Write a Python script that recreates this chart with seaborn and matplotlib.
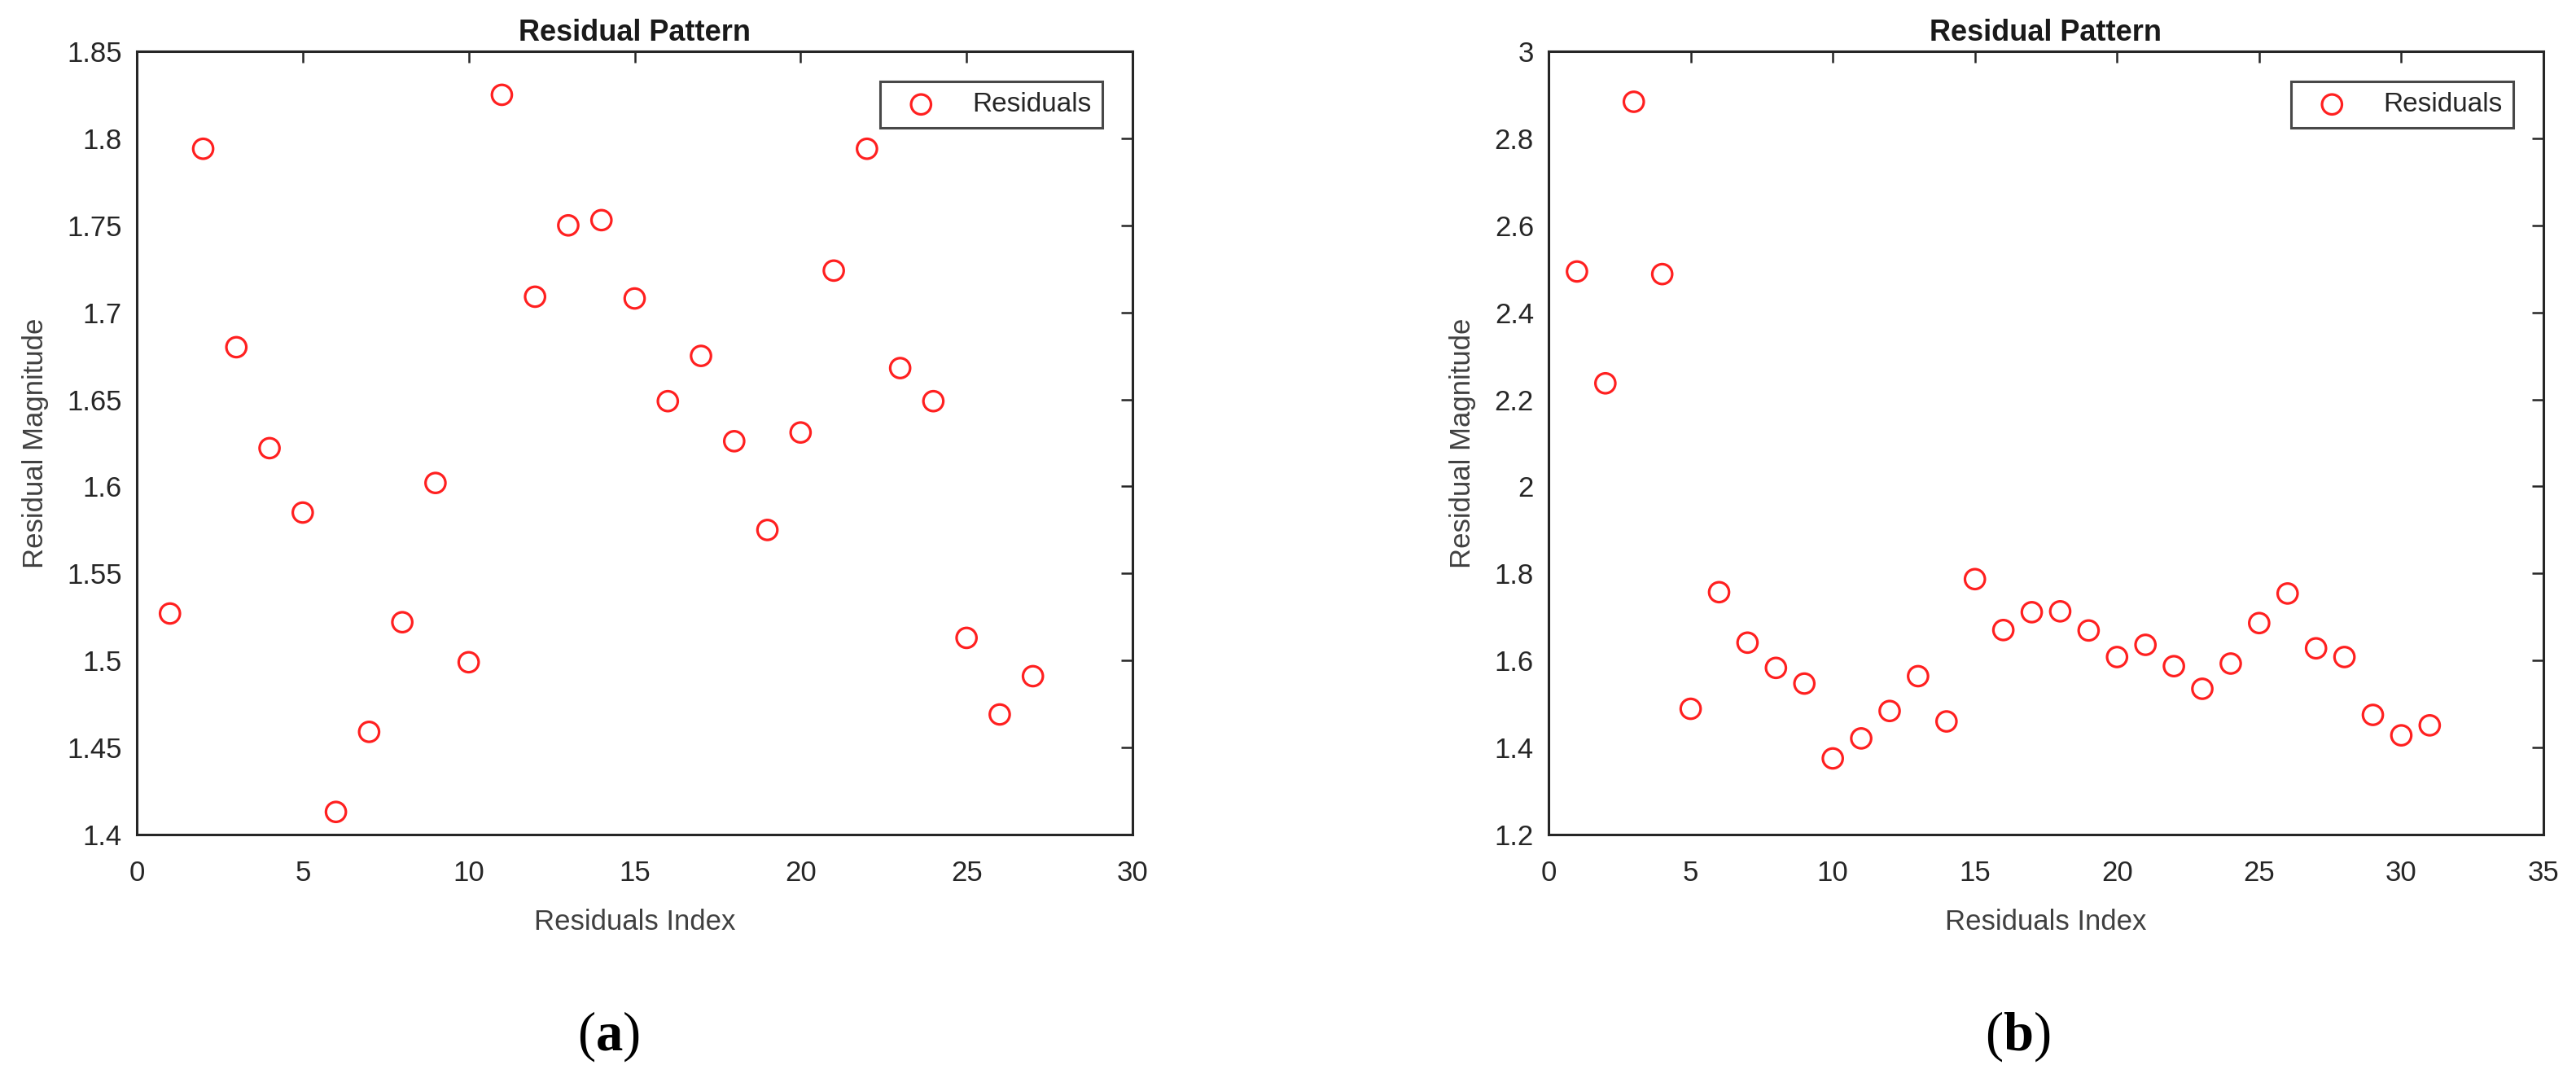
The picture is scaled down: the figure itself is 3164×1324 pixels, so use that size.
import numpy as np
import pandas as pd
import matplotlib
matplotlib.use("Agg")
import matplotlib.pyplot as plt
import seaborn as sns

# residuals: index 1..27
idx_a = list(range(1, 28))
res_a = [1.527, 1.794, 1.680, 1.622, 1.585, 1.413, 1.459, 1.522, 1.602, 1.499,
         1.825, 1.709, 1.750, 1.753, 1.708, 1.649, 1.675, 1.626, 1.575, 1.631,
         1.724, 1.794, 1.668, 1.649, 1.513, 1.469, 1.491]

# residuals: index 1..31
idx_b = list(range(1, 32))
res_b = [2.494, 2.237, 2.884, 2.488, 1.489, 1.757, 1.641, 1.583, 1.547, 1.375,
         1.421, 1.484, 1.564, 1.460, 1.787, 1.670, 1.711, 1.713, 1.669, 1.608,
         1.636, 1.587, 1.535, 1.593, 1.686, 1.754, 1.628, 1.608, 1.475, 1.428,
         1.451]

yticks_a = [1.4, 1.45, 1.5, 1.55, 1.6, 1.65, 1.7, 1.75, 1.8, 1.85]
ytick_labels_a = ['1.4', '1.45', '1.5', '1.55', '1.6', '1.65', '1.7', '1.75', '1.8', '1.85']
xticks_a = [0, 5, 10, 15, 20, 25, 30]
yticks_b = [1.2, 1.4, 1.6, 1.8, 2.0, 2.2, 2.4, 2.6, 2.8, 3.0]
ytick_labels_b = ['1.2', '1.4', '1.6', '1.8', '2', '2.2', '2.4', '2.6', '2.8', '3']
xticks_b = [0, 5, 10, 15, 20, 25, 30, 35]

sns.set_theme(style="white")
plt.rcParams['font.family'] = ['Liberation Sans Narrow', 'Liberation Sans', 'DejaVu Sans']
plt.rcParams['mathtext.fontset'] = 'custom'
plt.rcParams['mathtext.rm'] = 'Liberation Serif'
plt.rcParams['mathtext.bf'] = 'Liberation Serif:bold'

W, H = 3164, 1324
fig = plt.figure(figsize=(W / 100, H / 100), dpi=100)


def box(x0, y0, x1, y1):
    # pixel box (top-left origin) -> figure fraction rect
    return [x0 / W, 1 - y1 / H, (x1 - x0) / W, (y1 - y0) / H]


ax_a = fig.add_axes(box(168, 63, 1391, 1025))
ax_b = fig.add_axes(box(1902, 63, 3124, 1025))


def draw_panel(ax, idx, res, xlim, ylim, xticks, yticks, ylabels):
    df = pd.DataFrame({'Residuals Index': idx, 'Residual Magnitude': res})
    sns.scatterplot(data=df, x='Residuals Index', y='Residual Magnitude', ax=ax,
                    marker='o', s=310, facecolors='none', edgecolor='#ff2020',
                    linewidth=2.3, label='Residuals')
    ax.set_xlim(*xlim)
    ax.set_ylim(*ylim)
    ax.set_xticks(xticks)
    ax.set_xticklabels([str(t) for t in xticks])
    ax.set_yticks(yticks)
    ax.set_yticklabels(ylabels)
    ax.tick_params(direction='in', length=10, width=1.8, top=True, right=True,
                   labelsize=25, colors='#262626')
    ax.tick_params(axis='x', pad=22)
    ax.tick_params(axis='y', pad=13)
    for sp in ax.spines.values():
        sp.set_color('#262626')
        sp.set_linewidth(2.2)
    ax.set_xlabel('Residuals Index', fontsize=25, color='#404040', labelpad=20)
    ax.set_ylabel('Residual Magnitude', fontsize=25, color='#404040', labelpad=16)
    ax.set_title('Residual Pattern', fontsize=26, fontweight='bold', color='#1a1a1a', pad=9)
    leg = ax.legend(loc='upper right', fontsize=24, frameon=True, fancybox=False,
                    edgecolor='#1a1a1a', borderpad=0.4, handlelength=2.2,
                    handletextpad=0.8, borderaxespad=1.1)
    leg.get_frame().set_linewidth(2.2)


draw_panel(ax_a, idx_a, res_a, (0, 30), (1.4, 1.85), xticks_a, yticks_a, ytick_labels_a)
draw_panel(ax_b, idx_b, res_b, (0, 35), (1.2, 3.0), xticks_b, yticks_b, ytick_labels_b)

# sub-figure captions
fig.text(747 / W, 1 - 1273 / H, r'$\mathrm{(}\mathbf{a}\mathrm{)}$', fontsize=48,
         ha='center', va='center', color='black')
fig.text(2478 / W, 1 - 1273 / H, r'$\mathrm{(}\mathbf{b}\mathrm{)}$', fontsize=48,
         ha='center', va='center', color='black')

fig.savefig('out.png', dpi=100)
